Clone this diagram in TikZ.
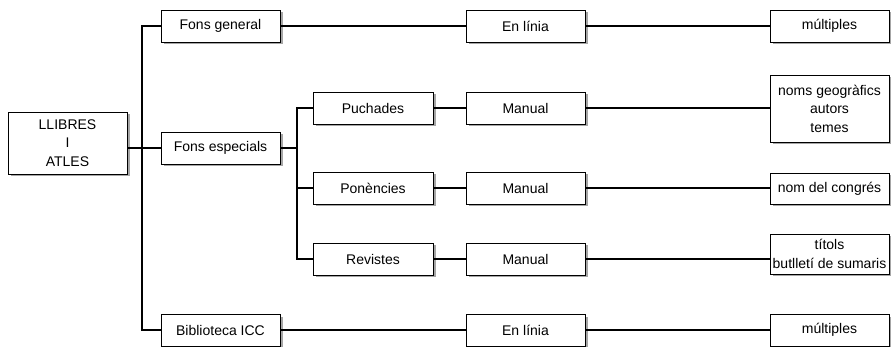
\documentclass[tikz,border=0pt]{standalone}
\usepackage{fontspec}
\setmainfont{Liberation Sans}
\usetikzlibrary{shadows}
\begin{document}
\begin{tikzpicture}[x=1pt,y=-1pt,
  box/.style={draw=black, line width=0.9pt, fill=white, minimum width=119pt, minimum height=32pt,
    inner sep=0pt, align=center, font=\fontsize{14}{18.5}\selectfont,
    drop shadow={shadow xshift=2.5pt, shadow yshift=-2.5pt, fill=black!35, opacity=1}},
  conn/.style={line width=1.1pt}]
\useasboundingbox (0,0) rectangle (891,347);
% level 0
\node[box, minimum height=62pt] (ll) at (67.5,143) {LLIBRES\\I\\ATLES};
% level 1
\node[box] (fg) at (220.5,26) {Fons general};
\node[box] (fe) at (220.5,148) {Fons especials};
\node[box] (bib) at (220.5,330) {Biblioteca ICC};
% level 2
\node[box, minimum width=120pt] (pu) at (373,108) {Puchades};
\node[box, minimum width=120pt] (po) at (373,188) {Ponències};
\node[box, minimum width=120pt] (re) at (373,259) {Revistes};
% level 3
\node[box] (en1) at (525.5,26) {En línia};
\node[box] (ma1) at (525.5,108) {Manual};
\node[box] (ma2) at (525.5,188) {Manual};
\node[box] (ma3) at (525.5,259) {Manual};
\node[box] (en2) at (525.5,330) {En línia};
% level 4
\node[box] (m1) at (829.5,26) {múltiples};
\node[box, minimum height=67pt] (ng) at (829.5,108.5) {noms geogràfics\\autors\\temes};
\node[box, minimum height=31pt] (nc) at (829.5,188.5) {nom del congrés};
\node[box, minimum height=40pt] (ti) at (829.5,254) {títols\\butlletí de sumaris};
\node[box] (m2) at (829.5,330) {múltiples};
% trunks
\coordinate (tr1) at (142,0);
\coordinate (tr2) at (297,0);
\draw[conn] (fg.west) -- (fg.west -| tr1) -- (bib.west -| tr1) -- (bib.west);
\draw[conn] (ll.east |- fe.west) -- (fe.west);
\draw[conn] (fe.east) -- (fe.east -| tr2);
\draw[conn] (pu.west) -- (pu.west -| tr2) -- (re.west -| tr2) -- (re.west);
\draw[conn] (po.west) -- (po.west -| tr2);
% horizontals
\draw[conn] (fg.east) -- (en1.west);
\draw[conn] (en1.east) -- (m1.west);
\draw[conn] (pu.east) -- (ma1.west);
\draw[conn] (ma1.east) -- (ng.west |- ma1.east);
\draw[conn] (po.east) -- (ma2.west);
\draw[conn] (ma2.east) -- (nc.west |- ma2.east);
\draw[conn] (re.east) -- (ma3.west);
\draw[conn] (ma3.east) -- (ti.west |- ma3.east);
\draw[conn] (bib.east) -- (en2.west);
\draw[conn] (en2.east) -- (m2.west);
\end{tikzpicture}
\end{document}
